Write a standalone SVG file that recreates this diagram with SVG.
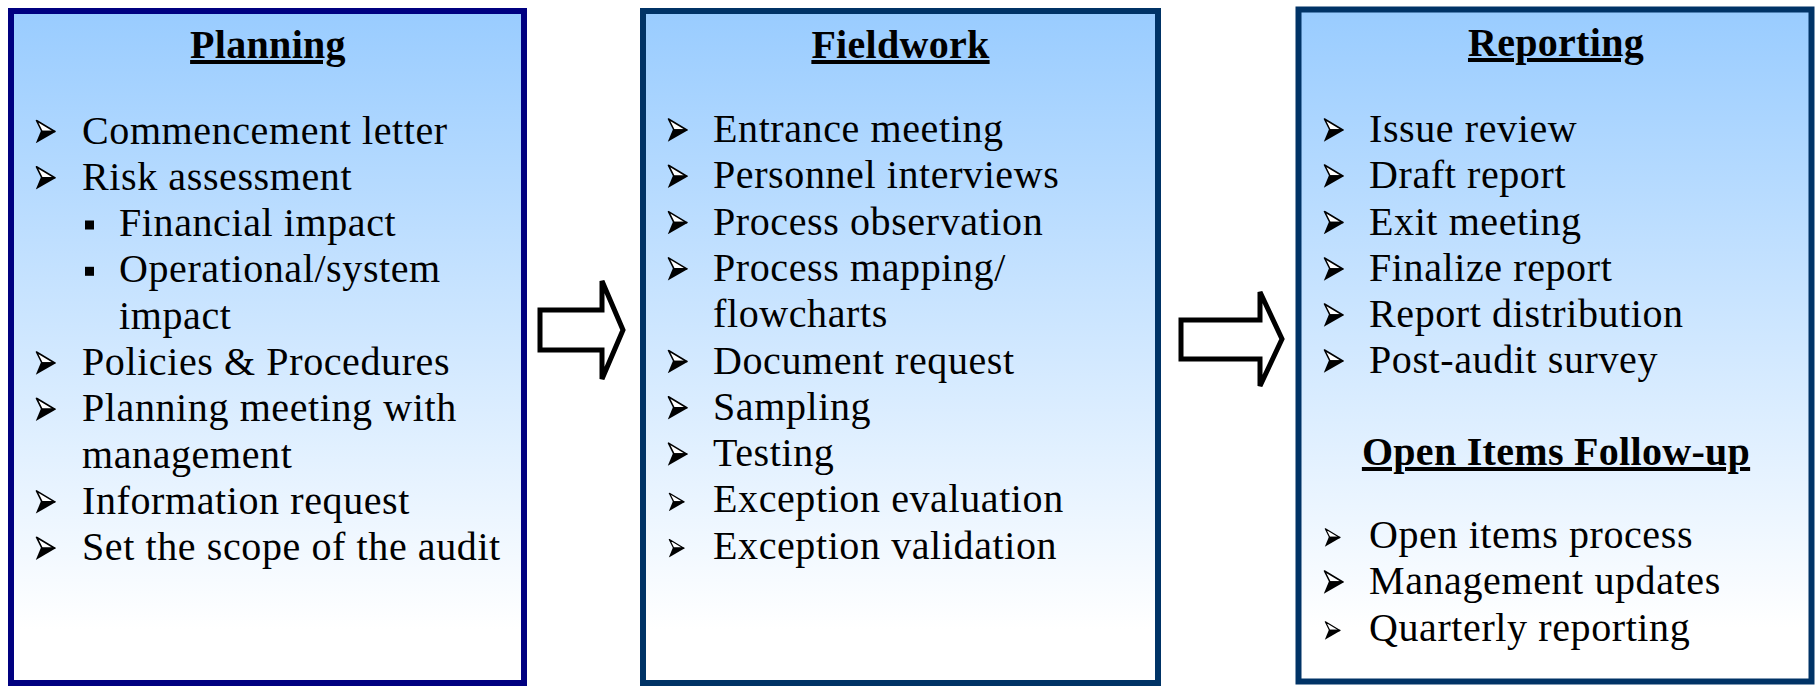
<svg xmlns="http://www.w3.org/2000/svg" xmlns:xlink="http://www.w3.org/1999/xlink" width="1815" height="686" viewBox="0 0 1815 686">
<style>
.box{stroke-width:6}
.b1{stroke:#000080}
.b2{stroke:#003366}
.t{font-family:"Liberation Serif","Times New Roman",serif;font-size:40px;letter-spacing:0.6px;fill:#000}
.h{font-weight:bold;text-anchor:middle;text-decoration:underline;letter-spacing:0.3px}
.conn{fill:#fff;stroke:#000;stroke-width:5;stroke-linejoin:miter}
.sq{fill:#000}
</style>
<defs>
<linearGradient id="g" x1="0" y1="0" x2="0" y2="1">
<stop offset="0" stop-color="#99CCFF"/>
<stop offset="0.92" stop-color="#FFFFFF"/>
<stop offset="1" stop-color="#FFFFFF"/>
</linearGradient>
<symbol id="ar" viewBox="0 0 20 24">
<path d="M1,1 L19.3,12 L6.5,12 Z" fill="#fff" stroke="#000" stroke-width="1.6" stroke-linejoin="round"/>
<path d="M5.5,11.2 L19.9,11.2 L19.9,12.4 L0.3,23.7 Z" fill="#000"/>
</symbol>
</defs>
<rect width="1815" height="686" fill="#fff"/>

<g id="connectors">
<path class="conn" d="M540,310 L602,310 L602,281 L623,330 L602,379 L602,350 L540,350 Z"/>
<path class="conn" d="M1181,320 L1260,320 L1260,292 L1282,339 L1260,386 L1260,359 L1181,359 Z"/>
</g>

<g id="planning">
<rect class="box b1" x="11" y="11" width="513" height="672" fill="url(#g)"/>
<text class="t h" x="268" y="58">Planning</text>
<use href="#ar" x="35" y="119.5" width="21" height="24"/>
<text class="t" x="82" y="143.5">Commencement letter</text>
<use href="#ar" x="35" y="165.8" width="21" height="24"/>
<text class="t" x="82" y="189.8">Risk assessment</text>
<rect class="sq" x="85" y="220.5" width="9" height="9"/>
<text class="t" x="119" y="236.1">Financial impact</text>
<rect class="sq" x="85" y="266.8" width="9" height="9"/>
<text class="t" x="119" y="282.4">Operational/system</text>
<text class="t" x="119" y="328.7">impact</text>
<use href="#ar" x="35" y="351" width="21" height="24"/>
<text class="t" x="82" y="375">Policies &amp; Procedures</text>
<use href="#ar" x="35" y="397.3" width="21" height="24"/>
<text class="t" x="82" y="421.3">Planning meeting with</text>
<text class="t" x="82" y="467.6">management</text>
<use href="#ar" x="35" y="489.9" width="21" height="24"/>
<text class="t" x="82" y="513.9">Information request</text>
<use href="#ar" x="35" y="536.2" width="21" height="24"/>
<text class="t" x="82" y="560.2">Set the scope of the audit</text>
</g>

<g id="fieldwork">
<rect class="box b2" x="643" y="11" width="515" height="672" fill="url(#g)"/>
<text class="t h" x="900.5" y="58">Fieldwork</text>
<use href="#ar" x="667" y="118" width="21" height="24"/>
<text class="t" x="713" y="142">Entrance meeting</text>
<use href="#ar" x="667" y="164.3" width="21" height="24"/>
<text class="t" x="713" y="188.3">Personnel interviews</text>
<use href="#ar" x="667" y="210.6" width="21" height="24"/>
<text class="t" x="713" y="234.6">Process observation</text>
<use href="#ar" x="667" y="256.9" width="21" height="24"/>
<text class="t" x="713" y="280.9">Process mapping/</text>
<text class="t" x="713" y="327.2">flowcharts</text>
<use href="#ar" x="667" y="349.5" width="21" height="24"/>
<text class="t" x="713" y="373.5">Document request</text>
<use href="#ar" x="667" y="395.8" width="21" height="24"/>
<text class="t" x="713" y="419.8">Sampling</text>
<use href="#ar" x="667" y="442.1" width="21" height="24"/>
<text class="t" x="713" y="466.1">Testing</text>
<use href="#ar" x="668" y="492.4" width="17" height="19"/>
<text class="t" x="713" y="512.4">Exception evaluation</text>
<use href="#ar" x="668" y="538.7" width="17" height="19"/>
<text class="t" x="713" y="558.7">Exception validation</text>
</g>

<g id="reporting">
<rect class="box b2" x="1298.5" y="9.5" width="513" height="672" stroke-width="7" fill="url(#g)"/>
<text class="t h" x="1556" y="56">Reporting</text>
<use href="#ar" x="1323" y="118" width="21" height="24"/>
<text class="t" x="1369" y="142">Issue review</text>
<use href="#ar" x="1323" y="164" width="21" height="24"/>
<text class="t" x="1369" y="188">Draft report</text>
<use href="#ar" x="1323" y="210.5" width="21" height="24"/>
<text class="t" x="1369" y="234.5">Exit meeting</text>
<use href="#ar" x="1323" y="257" width="21" height="24"/>
<text class="t" x="1369" y="281">Finalize report</text>
<use href="#ar" x="1323" y="303" width="21" height="24"/>
<text class="t" x="1369" y="327">Report distribution</text>
<use href="#ar" x="1323" y="349" width="21" height="24"/>
<text class="t" x="1369" y="373">Post-audit survey</text>
<text class="t h" x="1556" y="465">Open Items Follow-up</text>
<use href="#ar" x="1324" y="528" width="17" height="19"/>
<text class="t" x="1369" y="548">Open items process</text>
<use href="#ar" x="1323" y="570" width="21" height="24"/>
<text class="t" x="1369" y="594">Management updates</text>
<use href="#ar" x="1324" y="621" width="17" height="19"/>
<text class="t" x="1369" y="641">Quarterly reporting</text>
</g>
</svg>
